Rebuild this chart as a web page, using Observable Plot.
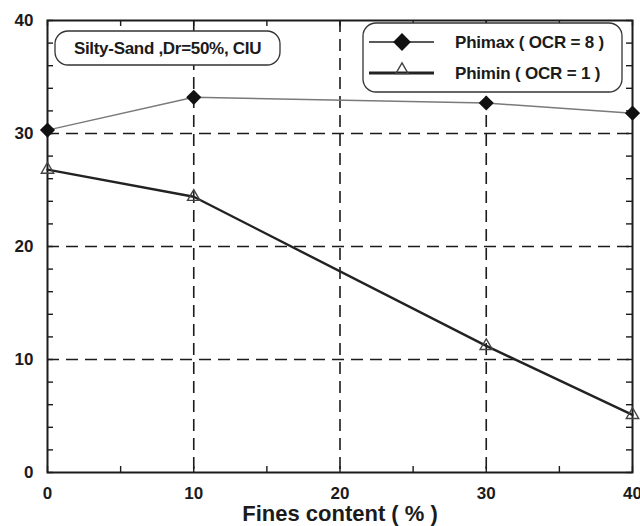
<!DOCTYPE html>
<html>
<head>
<meta charset="utf-8">
<script src="https://cdn.jsdelivr.net/npm/d3@7"></script>
<script src="https://cdn.jsdelivr.net/npm/@observablehq/plot@0.6"></script>
<style>
  body { margin: 0; background: #fff; }
  #chart svg { display: block; }
</style>
</head>
<body>
<div id="chart"></div>
<script>
// Friction angle vs fines content, silty sand (Dr = 50 %, CIU)
const finesContent = [0, 10, 30, 40];
const phiMax = [30.3, 33.2, 32.7, 31.8];   // OCR = 8
const phiMin = [26.8, 24.4, 11.2, 5.1];    // OCR = 1
const xTicks = [0, 10, 20, 30, 40];
const yTicks = [0, 10, 20, 30, 40];
const seriesNames = ["Phimax ( OCR = 8 )", "Phimin ( OCR = 1 )"];
const noteText = "Silty-Sand ,Dr=50%, CIU";
const xTitle = "Fines content ( % )";

const W = 640, H = 526;
const mL = 47, mR = 8, mT = 20, mB = 54;
const frameW = W - mL - mR, frameH = H - mT - mB;
const ink = "#1b1b1b";
const font = "'Liberation Sans', Arial, Helvetica, sans-serif";

const maxRows = finesContent.map((x, i) => ({x, y: phiMax[i]}));
const minRows = finesContent.map((x, i) => ({x, y: phiMin[i]}));

// minor tick positions: every 5 % on x, every 2 degrees on y
const xMinor = d3.range(xTicks[0], xTicks[xTicks.length - 1] + 1, 5);
const yMinor = d3.range(yTicks[0], yTicks[yTicks.length - 1] + 1, 2);
const inner = xTicks.slice(1, -1);
const innerY = yTicks.slice(1, -1);
const tickLen = 6;
const dash = "12,7";

const chart = Plot.plot({
  width: W,
  height: H,
  marginLeft: mL,
  marginRight: mR,
  marginTop: mT,
  marginBottom: mB,
  style: {fontFamily: font, fontWeight: "bold", fontSize: "17px", color: ink, background: "#fff"},
  x: {domain: [xTicks[0], xTicks[xTicks.length - 1]]},
  y: {domain: [yTicks[0], yTicks[yTicks.length - 1]]},
  marks: [
    // dashed grid
    Plot.gridX(inner, {stroke: ink, strokeOpacity: 1, strokeWidth: 1.6, strokeDasharray: dash}),
    Plot.gridY(innerY, {stroke: ink, strokeOpacity: 1, strokeWidth: 1.6, strokeDasharray: dash}),
    // inward minor ticks on all four sides
    Plot.ruleX(xMinor, {x: d => d, insetTop: frameH - tickLen, stroke: ink, strokeWidth: 1.4}),
    Plot.ruleX(xMinor, {x: d => d, insetBottom: frameH - tickLen, stroke: ink, strokeWidth: 1.4}),
    Plot.ruleY(yMinor, {y: d => d, insetRight: frameW - tickLen, stroke: ink, strokeWidth: 1.4}),
    Plot.ruleY(yMinor, {y: d => d, insetLeft: frameW - tickLen, stroke: ink, strokeWidth: 1.4}),
    Plot.frame({stroke: ink, strokeWidth: 2}),
    // series
    Plot.line(maxRows, {x: "x", y: "y", stroke: "#7a7a7a", strokeWidth: 1.5}),
    Plot.line(minRows, {x: "x", y: "y", stroke: "#222", strokeWidth: 2.4}),
    Plot.dot(maxRows, {x: "x", y: "y", symbol: "diamond2", r: 6.8, fill: "#111", stroke: "none"}),
    Plot.dot(minRows, {x: "x", y: "y", symbol: "triangle", r: 4.6, fill: "none", stroke: "#444", strokeWidth: 1.4}),
    // axes
    Plot.axisX(xTicks, {tickSize: 0, tickPadding: 14, label: null, fontSize: 17, fill: ink}),
    Plot.axisY(yTicks, {tickSize: 0, tickPadding: 14, label: null, fontSize: 17, fill: ink}),
    Plot.text([xTitle], {frameAnchor: "bottom", dy: 41.5, fontSize: 22, fill: ink, lineAnchor: "middle"})
  ]
});

document.getElementById("chart").append(chart);

const svg = d3.select(chart);
// every label on the chart is set in bold; tick labels at 17px
svg.selectAll("text").attr("font-weight", "bold");
svg.selectAll("g[aria-label='x-axis tick label'], g[aria-label='y-axis tick label']")
  .attr("font-size", 17).attr("font-weight", "bold");

// note box and legend, drawn in frame pixel space
const g = svg.append("g")
  .attr("font-family", font).attr("font-weight", "bold").attr("fill", ink)
  .attr("text-anchor", "start");

// note box
g.append("rect")
  .attr("x", mL + 8).attr("y", mT + 11).attr("width", 225).attr("height", 34)
  .attr("rx", 13).attr("fill", "#fff").attr("stroke", "#333").attr("stroke-width", 1.3);
g.append("text")
  .attr("x", mL + 8 + 112.5).attr("y", mT + 28).attr("dy", "0.35em")
  .attr("text-anchor", "middle").attr("font-size", 17).attr("letter-spacing", "-0.3")
  .text(noteText);

// legend
const lx = mL + 316, ly = mT + 3;
g.append("rect")
  .attr("x", lx).attr("y", ly).attr("width", 259).attr("height", 69)
  .attr("rx", 13).attr("fill", "#fff").attr("stroke", "#333").attr("stroke-width", 1.3);
const rows = [
  {name: seriesNames[0], cy: ly + 19, sw: 1.6, stroke: "#222", sym: d3.symbolDiamond2, size: Math.PI * 8 * 8, fill: "#111", sstroke: "none", shift: 0},
  {name: seriesNames[1], cy: ly + 50, sw: 3, stroke: "#222", sym: d3.symbolTriangle, size: Math.PI * 4.6 * 4.6, fill: "none", sstroke: "#444", shift: -3}
];
for (const r of rows) {
  g.append("line")
    .attr("x1", lx + 6).attr("x2", lx + 71).attr("y1", r.cy).attr("y2", r.cy)
    .attr("stroke", r.stroke).attr("stroke-width", r.sw);
  g.append("path")
    .attr("d", d3.symbol(r.sym, r.size)())
    .attr("transform", `translate(${lx + 39},${r.cy + r.shift})`)
    .attr("fill", r.fill).attr("stroke", r.sstroke).attr("stroke-width", 1.4);
  g.append("text")
    .attr("x", lx + 92).attr("y", r.cy).attr("dy", "0.35em")
    .attr("text-anchor", "start")
    .attr("font-size", 17).attr("letter-spacing", "-0.2")
    .text(r.name);
}
</script>
</body>
</html>
